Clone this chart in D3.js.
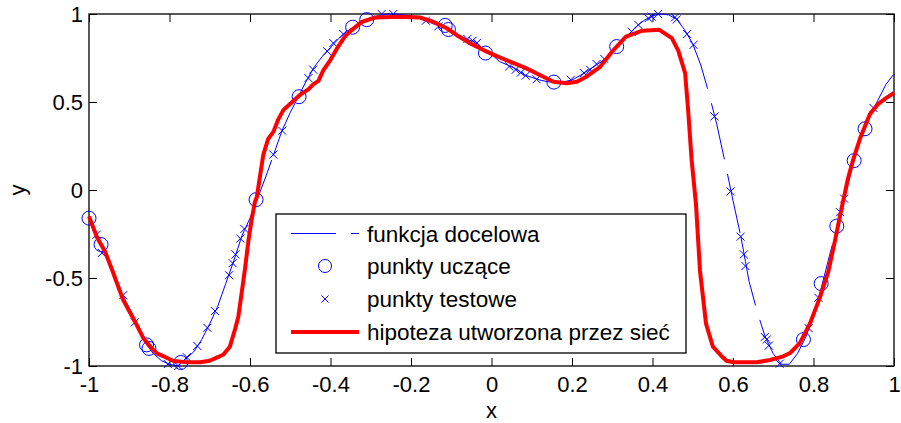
<!DOCTYPE html>
<html><head><meta charset="utf-8">
<script src="https://cdn.jsdelivr.net/npm/d3@7"></script>
<style>body{margin:0;background:#fff}svg{display:block}text{font-family:Arial,"Liberation Sans",sans-serif}</style>
</head><body><svg id="c" width="901" height="423"></svg>
<script>
// target function (funkcja docelowa)
const targetX = [-1.00,-0.98,-0.97,-0.95,-0.92,-0.90,-0.88,-0.86,-0.84,-0.82,-0.80,-0.78,-0.76,-0.74,-0.72,-0.70,-0.68,-0.66,-0.64,-0.62,-0.60,-0.58,-0.56,-0.54,-0.52,-0.50,-0.48,-0.46,-0.44,-0.42,-0.40,-0.38,-0.36,-0.34,-0.32,-0.30,-0.28,-0.26,-0.24,-0.22,-0.20,-0.18,-0.16,-0.14,-0.12,-0.10,-0.08,-0.06,-0.04,-0.02,0.00,0.02,0.04,0.06,0.08,0.10,0.12,0.14,0.16,0.18,0.20,0.22,0.24,0.26,0.28,0.30,0.32,0.34,0.36,0.38,0.40,0.42,0.44,0.46,0.48,0.50,0.52,0.54,0.56,0.58,0.60,0.62,0.64,0.66,0.68,0.70,0.72,0.74,0.76,0.78,0.80,0.82,0.84,0.86,0.88,0.90,0.92,0.94,0.96,0.98,1.00];
const targetY = [-0.16,-0.25,-0.32,-0.42,-0.58,-0.67,-0.76,-0.87,-0.93,-0.97,-0.99,-1.00,-0.96,-0.92,-0.85,-0.76,-0.66,-0.53,-0.40,-0.26,-0.16,-0.04,0.08,0.21,0.34,0.44,0.53,0.62,0.70,0.76,0.81,0.86,0.90,0.93,0.96,0.98,0.99,1.00,1.00,0.995,0.99,0.975,0.96,0.94,0.93,0.91,0.88,0.855,0.84,0.80,0.77,0.73,0.71,0.69,0.655,0.64,0.625,0.615,0.61,0.615,0.625,0.65,0.68,0.71,0.74,0.79,0.83,0.88,0.93,0.965,0.99,1.00,0.995,0.97,0.91,0.83,0.71,0.55,0.37,0.16,-0.06,-0.27,-0.52,-0.69,-0.835,-0.93,-0.99,-0.99,-0.93,-0.84,-0.72,-0.55,-0.37,-0.20,-0.02,0.16,0.31,0.42,0.51,0.60,0.66];
// training points (punkty uczące)
const trainX = [-1.00,-0.97,-0.857,-0.851,-0.772,-0.585,-0.478,-0.345,-0.31,-0.115,-0.107,-0.015,0.155,0.311,0.775,0.819,0.858,0.901,0.928];
const trainY = [-0.16,-0.31,-0.88,-0.90,-0.98,-0.055,0.53,0.925,0.968,0.935,0.912,0.778,0.613,0.815,-0.85,-0.532,-0.205,0.167,0.348];
// test points (punkty testowe)
const testX = [-0.981,-0.968,-0.915,-0.886,-0.804,-0.778,-0.757,-0.731,-0.706,-0.687,-0.652,-0.643,-0.636,-0.624,-0.614,-0.542,-0.520,-0.455,-0.443,-0.408,-0.393,-0.368,-0.273,-0.244,-0.163,-0.132,-0.060,-0.047,-0.036,0.044,0.060,0.073,0.085,0.112,0.197,0.230,0.245,0.261,0.280,0.348,0.365,0.390,0.398,0.414,0.456,0.460,0.486,0.502,0.554,0.594,0.619,0.627,0.631,0.679,0.684,0.689,0.716,0.788,0.812,0.866,0.876,0.949];
const testY = [-0.254,-0.358,-0.598,-0.752,-0.989,-1.0,-0.95,-0.886,-0.783,-0.688,-0.484,-0.416,-0.366,-0.276,-0.221,0.201,0.337,0.636,0.684,0.788,0.835,0.886,1.0,1.0,0.962,0.930,0.858,0.848,0.836,0.702,0.683,0.667,0.650,0.629,0.626,0.664,0.683,0.716,0.745,0.900,0.938,0.976,0.985,1.0,0.981,0.969,0.886,0.825,0.418,-0.008,-0.265,-0.366,-0.432,-0.835,-0.849,-0.884,-0.987,-0.785,-0.612,-0.126,-0.049,0.466];
// network hypothesis (hipoteza utworzona przez sieć)
const netX = [-1.00,-0.98,-0.96,-0.94,-0.915,-0.886,-0.865,-0.844,-0.83,-0.81,-0.79,-0.76,-0.724,-0.70,-0.68,-0.666,-0.65,-0.637,-0.629,-0.621,-0.612,-0.604,-0.596,-0.588,-0.583,-0.567,-0.555,-0.542,-0.53,-0.517,-0.50,-0.476,-0.455,-0.443,-0.43,-0.418,-0.40,-0.385,-0.365,-0.352,-0.322,-0.289,-0.227,-0.178,-0.145,-0.111,-0.087,-0.053,-0.020,0.013,0.046,0.087,0.120,0.154,0.187,0.212,0.236,0.253,0.270,0.303,0.334,0.375,0.417,0.448,0.464,0.481,0.489,0.497,0.508,0.518,0.533,0.55,0.57,0.584,0.601,0.659,0.692,0.725,0.742,0.766,0.791,0.816,0.837,0.853,0.870,0.886,0.899,0.916,0.940,0.961,0.982,1.00];
const netY = [-0.15,-0.27,-0.35,-0.47,-0.625,-0.747,-0.842,-0.900,-0.93,-0.950,-0.972,-0.978,-0.979,-0.970,-0.950,-0.935,-0.89,-0.79,-0.72,-0.59,-0.44,-0.29,-0.17,-0.07,-0.04,0.20,0.29,0.33,0.40,0.455,0.49,0.54,0.572,0.60,0.62,0.68,0.74,0.80,0.87,0.90,0.955,0.980,0.985,0.980,0.956,0.919,0.881,0.833,0.795,0.761,0.729,0.691,0.653,0.615,0.606,0.615,0.644,0.672,0.700,0.795,0.872,0.905,0.910,0.863,0.792,0.664,0.44,0.175,-0.08,-0.46,-0.76,-0.89,-0.94,-0.970,-0.979,-0.979,-0.966,-0.945,-0.926,-0.870,-0.760,-0.610,-0.462,-0.292,-0.102,0.068,0.176,0.295,0.43,0.49,0.525,0.551];
const xTicks = [-1,-0.8,-0.6,-0.4,-0.2,0,0.2,0.4,0.6,0.8,1];
const yTicks = [-1,-0.5,0,0.5,1];
const legendLabels = ["funkcja docelowa","punkty uczące","punkty testowe","hipoteza utworzona przez sieć"];
const xLabel = "x", yLabel = "y";

const svg = d3.select("#c");
const L=89,R=894,T=14,B=366;
const x = d3.scaleLinear().domain([-1,1]).range([L,R]);
const y = d3.scaleLinear().domain([-1,1]).range([B,T]);
const BLUE="#0000ff", RED="#ff0000";
const FS=22, LFS=22.5;

svg.append("rect").attr("width",901).attr("height",423).attr("fill","#fff");

// axes
const fmt = d=>String(d);
const gB = svg.append("g").attr("transform",`translate(0,${B})`)
  .call(d3.axisBottom(x).tickValues(xTicks).tickSizeInner(-8).tickSizeOuter(0).tickPadding(10).tickFormat(fmt));
const gT = svg.append("g").attr("transform",`translate(0,${T})`)
  .call(d3.axisTop(x).tickValues(xTicks).tickSizeInner(-8).tickSizeOuter(0).tickFormat(""));
const gL = svg.append("g").attr("transform",`translate(${L},0)`)
  .call(d3.axisLeft(y).tickValues(yTicks).tickSizeInner(-8).tickSizeOuter(0).tickPadding(6).tickFormat(fmt));
const gR = svg.append("g").attr("transform",`translate(${R},0)`)
  .call(d3.axisRight(y).tickValues(yTicks).tickSizeInner(-8).tickSizeOuter(0).tickFormat(""));
[gB,gT,gL,gR].forEach(g=>{
  g.select(".domain").remove();
  g.selectAll("line").attr("stroke","#000").attr("stroke-width",1);
  g.selectAll("text").attr("fill","#000").style("font-size",FS+"px").style("font-family","Arial, 'Liberation Sans', sans-serif");
});
svg.append("rect").attr("x",L).attr("y",T).attr("width",R-L).attr("height",B-T)
  .attr("fill","none").attr("stroke","#000").attr("stroke-width",1.3);

svg.append("text").attr("x",(L+R)/2).attr("y",418).attr("text-anchor","middle")
  .style("font-size",FS+"px").text(xLabel);
svg.append("text").attr("transform",`translate(25,${(T+B)/2}) rotate(-90)`).attr("text-anchor","middle")
  .style("font-size",FS+"px").text(yLabel);

// target function, split into pieces between sample points (dash pattern restarts per piece)
const tgt = targetX.map((v,i)=>[v,targetY[i]]);
const brk = Array.from(new Set(trainX.concat(testX))).sort((a,b)=>a-b);
const interp = xv => { for(let i=1;i<tgt.length;i++){ if(xv<=tgt[i][0]){const a=tgt[i-1],b=tgt[i];const t=(xv-a[0])/(b[0]-a[0]);return a[1]+t*(b[1]-a[1]);} } return tgt[tgt.length-1][1]; };
const edges = [-1].concat(brk.filter(v=>v>-1&&v<1)).concat([1]);
const lineGen = d3.line().x(d=>x(d[0])).y(d=>y(d[1]));
for(let k=0;k<edges.length-1;k++){
  const a=edges[k], b=edges[k+1];
  const pts=[[a,interp(a)]].concat(tgt.filter(p=>p[0]>a&&p[0]<b)).concat([[b,interp(b)]]);
  svg.append("path").attr("d",lineGen(pts)).attr("fill","none").attr("stroke",BLUE)
    .attr("stroke-width",1).attr("stroke-dasharray","45,15");
}
// training points
svg.append("g").selectAll("circle").data(trainX.map((v,i)=>[v,trainY[i]])).join("circle")
  .attr("cx",d=>x(d[0])).attr("cy",d=>y(d[1])).attr("r",7)
  .attr("fill","none").attr("stroke",BLUE).attr("stroke-width",1);
// test points
const cross = (g,cx,cy,s)=>g.append("path").attr("d",`M${cx-s},${cy-s}L${cx+s},${cy+s}M${cx-s},${cy+s}L${cx+s},${cy-s}`)
  .attr("stroke",BLUE).attr("stroke-width",1).attr("fill","none");
const gx = svg.append("g");
testX.forEach((v,i)=>cross(gx,x(v),y(testY[i]),4));
// network
svg.append("path").attr("d",lineGen(netX.map((v,i)=>[v,netY[i]]))).attr("fill","none")
  .attr("stroke",RED).attr("stroke-width",4).attr("stroke-linejoin","round");

// legend
const lg = svg.append("g");
lg.append("rect").attr("x",276).attr("y",214).attr("width",410).attr("height",139)
  .attr("fill","#fff").attr("stroke","#000").attr("stroke-width",1.3);
const rowY=[233.5,266,299,332];
lg.append("line").attr("x1",291).attr("x2",359).attr("y1",rowY[0]).attr("y2",rowY[0])
  .attr("stroke",BLUE).attr("stroke-width",1).attr("stroke-dasharray","45,15");
lg.append("circle").attr("cx",325).attr("cy",rowY[1]).attr("r",6.5).attr("fill","none").attr("stroke",BLUE);
cross(lg,325,rowY[2],3.5);
lg.append("line").attr("x1",291).attr("x2",359).attr("y1",rowY[3]).attr("y2",rowY[3])
  .attr("stroke",RED).attr("stroke-width",4);
legendLabels.forEach((t,i)=>lg.append("text").attr("x",367).attr("y",rowY[i]+8)
  .style("font-size",LFS+"px").attr("fill","#000").text(t));
</script></body></html>
